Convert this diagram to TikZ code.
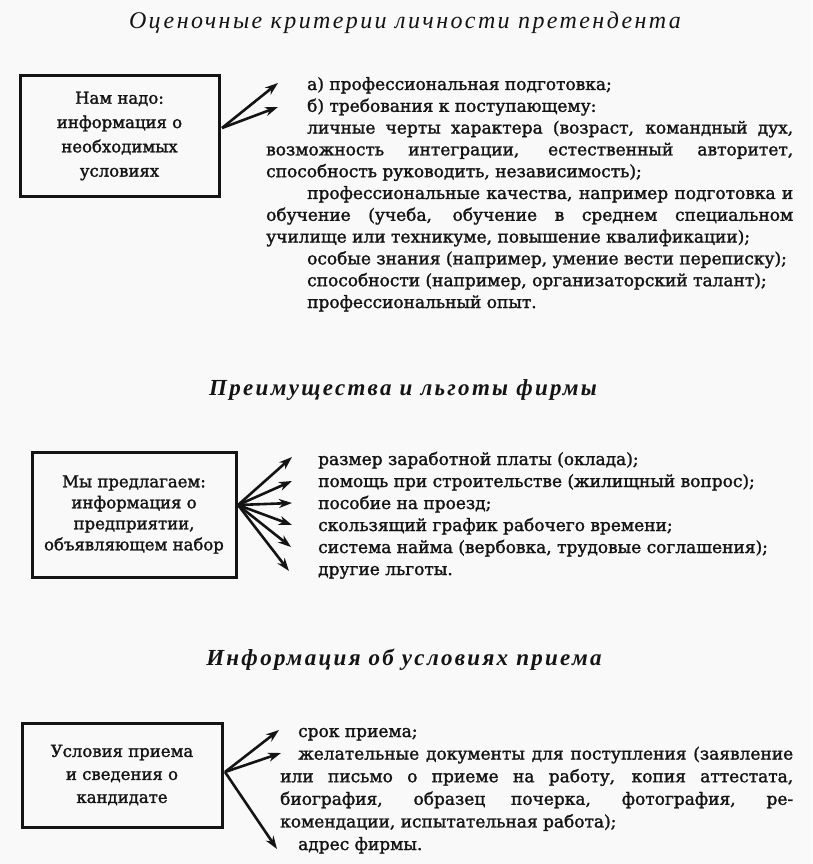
\documentclass[tikz,border=0pt]{standalone}
\usepackage{fontspec}
\setmainfont{DejaVu Serif}[FakeBold=1.6]
\newfontfamily\titlefont{Liberation Serif}[LetterSpace=10,Language=Russian]
\usetikzlibrary{arrows.meta}
\definecolor{pagebg}{gray}{0.975}
\definecolor{ink}{gray}{0.08}
\tikzset{
  box/.style={draw=ink, text=ink, line width=3pt, align=center, inner sep=0pt},
  ttl/.style={inner sep=0pt, anchor=base, text=ink, font=\titlefont\itshape\fontsize{24}{28}\selectfont},
  ttlb/.style={inner sep=0pt, anchor=base, text=ink, font=\titlefont\bfseries\itshape\fontsize{23}{28}\selectfont},
  body/.style={inner sep=0pt, anchor=base west, align=justify, text=ink},
  arr/.style={draw=ink, line width=2.6pt, -{Stealth[length=13pt,width=9pt,inset=4pt]}},
}
\begin{document}
\begin{tikzpicture}[x=1pt,y=-1pt]
\fill[pagebg] (0,0) rectangle (812,864);
\useasboundingbox (0,0) rectangle (812,864);

% titles
\node[ttl] (t1) at (405,29) {Оценочные критерии личности претендента};
\node[ttlb] (t2) at (403,395) {Преимущества и льготы фирмы};
\node[ttlb] (t3) at (404,665) {Информация об условиях приема};

% boxes
\node[box, minimum width=199pt, minimum height=120pt, font=\fontsize{16.5}{24.3}\selectfont] (b1) at (119.5,136)
  {Нам надо:\\информация о\\необходимых\\условиях};
\node[box, minimum width=204pt, minimum height=125pt, font=\fontsize{16.5}{21}\selectfont] (b2) at (134,514.5)
  {Мы предлагаем:\\информация о\\предприятии,\\объявляющем набор};
\node[box, minimum width=200pt, minimum height=104pt, font=\fontsize{16.5}{23}\selectfont] (b3) at (122,775)
  {Условия приема\\и сведения о\\кандидате};

% arrows, group 1
\coordinate (o1) at (222,128);
\coordinate (p11) at (278,83);
\coordinate (p12) at (278,107);
\draw[arr] (o1) -- (p11);
\draw[arr] (o1) -- (p12);

% arrows, group 2
\coordinate (o2) at (238,505);
\coordinate (p21) at (292,457);
\coordinate (p22) at (292,481);
\coordinate (p23) at (292,503);
\coordinate (p24) at (292,525);
\coordinate (p25) at (291,547);
\coordinate (p26) at (289,571);
\foreach \p in {p21,p22,p23,p24,p25,p26} \draw[arr] (o2) -- (\p);

% arrows, group 3
\coordinate (o3) at (225,772);
\coordinate (p31) at (279,730);
\coordinate (p32) at (281,753);
\coordinate (p33) at (277,849);
\foreach \p in {p31,p32,p33} \draw[arr] (o3) -- (\p);

% text blocks
\node[body, text width=527pt, font=\fontsize{17}{21.8}\selectfont] (x1) at (266,90) {%
\tolerance=9999\hyphenpenalty=10000\parindent=0pt
\hspace*{41pt}а) профессиональная подготовка;\par
\hspace*{41pt}б) требования к поступающему:\par
\hspace*{41pt}личные черты характера (возраст, командный дух,\linebreak
возможность интеграции, естественный авторитет,\linebreak
способность руководить, независимость);\par
\hspace*{41pt}профессиональные качества, например подготовка и\linebreak
обучение (учеба, обучение в среднем специальном\linebreak
училище или техникуме, повышение квалификации);\par
\hspace*{41pt}особые знания (например, умение вести переписку);\par
\hspace*{41pt}способности (например, организаторский талант);\par
\hspace*{41pt}профессиональный опыт.};

\node[body, text width=490pt, font=\fontsize{17}{22}\selectfont] (x2) at (318,465) {%
\parindent=0pt
размер заработной платы (оклада);\par
помощь при строительстве (жилищный вопрос);\par
пособие на проезд;\par
скользящий график рабочего времени;\par
система найма (вербовка, трудовые соглашения);\par
другие льготы.};

\node[body, text width=513pt, font=\fontsize{17}{22.6}\selectfont] (x3) at (280,737) {%
\tolerance=9999\hyphenpenalty=10000\parindent=0pt
\hspace*{18pt}срок приема;\par
\hspace*{18pt}желательные документы для поступления (заявление\linebreak
или письмо о приеме на работу, копия аттестата,\linebreak
биография, образец почерка, фотография, ре-\linebreak
комендации, испытательная работа);\par
\hspace*{18pt}адрес фирмы.};
\end{tikzpicture}
\end{document}
